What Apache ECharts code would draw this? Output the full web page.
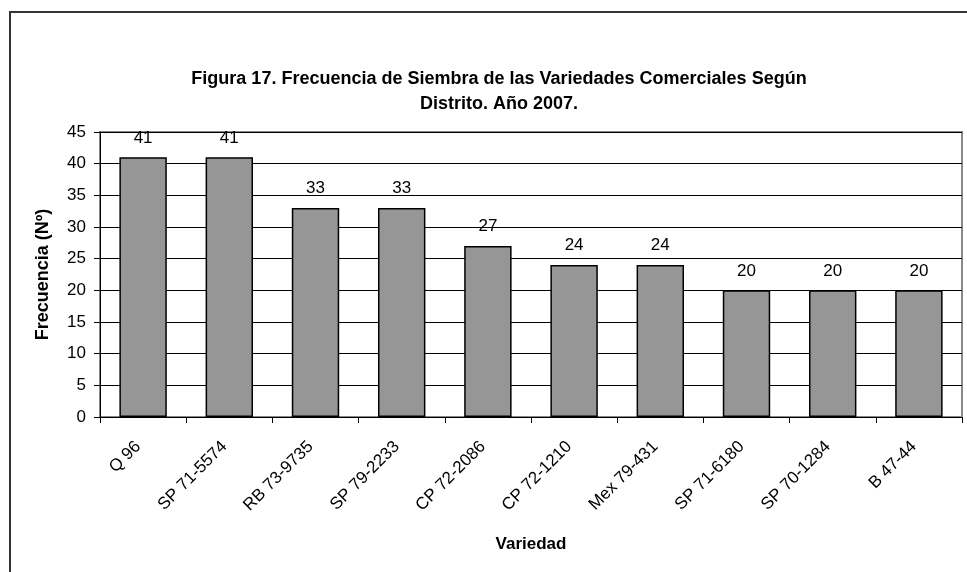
<!DOCTYPE html>
<html>
<head>
<meta charset="utf-8">
<script src="https://cdn.jsdelivr.net/npm/echarts@6/dist/echarts.min.js"></script>
<style>
html,body{margin:0;padding:0;background:#fff;}
#main{width:967px;height:572px;}
</style>
</head>
<body>
<div id="main"></div>
<script>
// datos de la figura
var variedades = ['Q 96','SP 71-5574','RB 73-9735','SP 79-2233','CP 72-2086','CP 72-1210','Mex 79-431','SP 71-6180','SP 70-1284','B 47-44'];
var frecuencia = [41,41,33,33,27,24,24,20,20,20];
var yTicks = {min:0, max:45, interval:5};

var fuente = '"Liberation Sans", Arial, sans-serif';
var myChart = echarts.init(document.getElementById('main'));
var option = {
    animation:false,
    backgroundColor:'#fff',
    graphic:[
        {type:'rect', shape:{x:10, y:12, width:980, height:600}, style:{fill:'none', stroke:'#333', lineWidth:2}}
    ],
    title:{
        text:'Figura 17. Frecuencia de Siembra de las Variedades Comerciales Según\nDistrito. Año 2007.',
        left:494, top:62, textAlign:'center',
        textStyle:{fontFamily:fuente, fontSize:18, fontWeight:'bold', color:'#000', lineHeight:25}
    },
    grid:{left:100, right:5, top:132, bottom:155, show:true, borderColor:'#888', borderWidth:2, backgroundColor:'transparent'},
    xAxis:{
        type:'category',
        data:variedades,
        name:'Variedad',
        nameLocation:'middle',
        nameGap:119,
        nameTextStyle:{fontFamily:fuente, fontSize:17, fontWeight:'bold', color:'#000'},
        axisLine:{lineStyle:{color:'#000', width:1}},
        axisTick:{show:true, alignWithLabel:false, length:6, lineStyle:{color:'#000'}},
        axisLabel:{rotate:45, margin:22, padding:[0,7,0,0], fontFamily:fuente, fontSize:17, color:'#000', interval:0}
    },
    yAxis:{
        type:'value',
        min:yTicks.min, max:yTicks.max, interval:yTicks.interval,
        name:'Frecuencia (Nº)',
        nameLocation:'middle',
        nameGap:48,
        nameTextStyle:{fontFamily:fuente, fontSize:18, fontWeight:'bold', color:'#000'},
        axisLine:{show:true, lineStyle:{color:'#000', width:1}},
        axisTick:{show:true, length:6, lineStyle:{color:'#000'}},
        axisLabel:{fontFamily:fuente, fontSize:17, color:'#000', margin:14},
        splitLine:{lineStyle:{color:'#000', width:1}}
    },
    series:[{
        type:'bar',
        data:frecuencia,
        barWidth:'55%',
        itemStyle:{color:'#969696', borderColor:'#000', borderWidth:1.5},
        label:{show:true, position:'top', distance:11, fontFamily:fuente, fontSize:17, color:'#000'}
    }]
};
myChart.setOption(option);
</script>
</body>
</html>
